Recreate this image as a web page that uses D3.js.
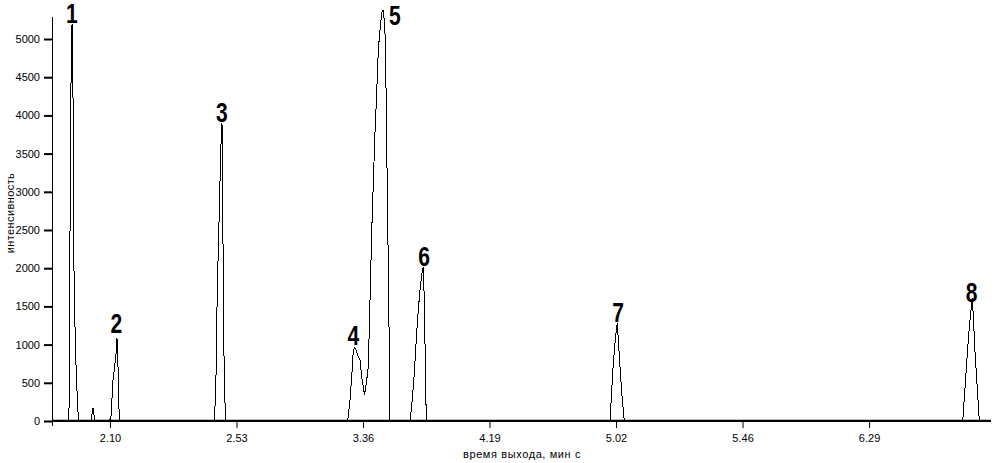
<!DOCTYPE html>
<html>
<head>
<meta charset="utf-8">
<script src="https://cdn.jsdelivr.net/npm/d3@7/dist/d3.min.js"></script>
<style>
  html, body { margin: 0; padding: 0; background: #fff; }
  svg { display: block; }
  text { font-family: "Liberation Sans", Arial, sans-serif; fill: #000; }
</style>
</head>
<body>
<svg id="chart" width="997" height="463"></svg>
<script>
// ---- data (time in seconds, intensity) ----
const peak1 = [[116.06,0],[116.23,1150],[116.57,3480],[116.91,5120],[117.15,5200],[117.52,3980],[117.76,2020],[118.27,930],[118.78,405],[119.29,0]];
const blip  = [[123.54,0],[124.22,170],[124.90,0]];
const peak2 = [[129.83,0],[130.34,50],[131.02,535],[131.36,640],[132.21,930],[132.38,1085],[132.62,900],[133.06,170],[133.23,0]];
const peak3 = [[165.35,0],[165.69,185],[166.03,575],[166.47,1715],[167.05,2590],[167.49,3285],[167.83,3740],[168.07,3900],[168.24,3545],[168.41,2370],[168.65,1280],[168.85,500],[169.33,0]];
const peak45 = [[210.80,0],[211.58,275],[212.16,576],[212.70,929],[213.11,955],[213.52,942],[214.20,864],[214.98,798],[215.56,576],[216.10,445],[216.51,340],[217.26,536],[217.80,707],[218.38,1584],[218.95,2461],[219.50,3115],[220.07,3770],[220.65,4293],[221.20,4856],[221.77,5118],[222.35,5340],[222.79,5380],[223.30,5223],[223.64,4921],[224.15,3351],[224.66,1846],[224.94,890],[225.17,0]];
const peak6 = [[231.97,0],[232.75,275],[233.43,628],[234.25,1152],[234.79,1453],[235.37,1715],[235.95,1911],[236.49,2016],[236.83,1584],[237.17,798],[237.51,0]];
const peak7 = [[299.95,0],[300.53,406],[301.07,759],[301.65,1021],[301.99,1152],[302.43,1283],[302.77,1060],[303.35,707],[303.93,366],[304.81,0]];
const peak8 = [[419.84,0],[420.62,445],[421.40,890],[422.08,1230],[422.66,1453],[423.10,1610],[423.44,1361],[424.02,890],[424.60,537],[425.48,0]];

const timeDomain = [110.3, 429.1];
const xTickValues = [130, 173, 216, 259, 302, 345, 388];
const xTickLabels = ["2.10", "2.53", "3.36", "4.19", "5.02", "5.46", "6.29"];
const yTickValues = [0, 500, 1000, 1500, 2000, 2500, 3000, 3500, 4000, 4500, 5000];

const peakNames = ["1", "2", "3", "4", "5", "6", "7", "8"];
const labelTimes = [117.08, 132.21, 168.07, 212.70, 226.87, 236.73, 302.67, 422.89];
const labelValues = [5203, 1152, 3914, 995, 5183, 2029, 1296, 1558];

const xTitle = "время выхода, мин с";
const yTitle = "интенсивность";

// ---- chart ----
const svg = d3.select("#chart");
const x = d3.scaleLinear().domain(timeDomain).range([52, 990]);
const y = d3.scaleLinear().domain([0, 5000]).range([421, 39]);

const trace = [[timeDomain[0], 0]]
  .concat(peak1, blip, peak2, peak3, peak45, peak6, peak7, peak8)
  .concat([[timeDomain[1], 0]]);

// y axis
const yAxis = d3.axisLeft(y).tickValues(yTickValues).tickSize(8).tickPadding(4).tickFormat(d3.format("d"));
const gy = svg.append("g").attr("transform", "translate(52,0)").call(yAxis);
gy.select(".domain").remove();
gy.selectAll(".tick line").attr("stroke", "#000").attr("stroke-width", 2);
gy.selectAll(".tick text").attr("font-size", 11).attr("font-family", "'Liberation Sans', Arial, sans-serif").attr("fill", "#000");

// x axis
const xAxis = d3.axisBottom(x).tickValues(xTickValues).tickSize(7).tickPadding(6)
  .tickFormat((d, i) => xTickLabels[i]);
const gx = svg.append("g").attr("transform", "translate(0,421)").call(xAxis);
gx.select(".domain").remove();
gx.selectAll(".tick line").attr("stroke", "#000").attr("stroke-width", 1);
gx.selectAll(".tick text").attr("font-size", 11).attr("font-family", "'Liberation Sans', Arial, sans-serif").attr("fill", "#000");

// axis lines
svg.append("line").attr("x1", 52.5).attr("x2", 52.5).attr("y1", 17).attr("y2", 426)
  .attr("stroke", "#000").attr("stroke-width", 1);
svg.append("line").attr("x1", 52).attr("x2", 991).attr("y1", 420.8).attr("y2", 420.8)
  .attr("stroke", "#000").attr("stroke-width", 2.2);

// trace
const line = d3.line().x(d => x(d[0])).y(d => y(d[1]));
svg.append("path").datum(trace).attr("d", line)
  .attr("fill", "none").attr("stroke", "#000").attr("stroke-width", 1)
  .attr("shape-rendering", "crispEdges");

// peak labels
svg.append("g").selectAll("text").data(peakNames).join("text")
  .attr("transform", (d, i) => `translate(${x(labelTimes[i])},${y(labelValues[i])}) scale(0.78,1)`)
  .attr("text-anchor", "middle")
  .attr("font-size", 27)
  .attr("font-weight", "bold")
  .text(d => d);

// titles
svg.append("text").attr("x", 522).attr("y", 458).attr("text-anchor", "middle")
  .attr("font-size", 11).attr("letter-spacing", 0.6).text(xTitle);
svg.append("text").attr("transform", "translate(13.5,213) rotate(-90)").attr("text-anchor", "middle")
  .attr("font-size", 11).attr("letter-spacing", 0.4).text(yTitle);
</script>
</body>
</html>
